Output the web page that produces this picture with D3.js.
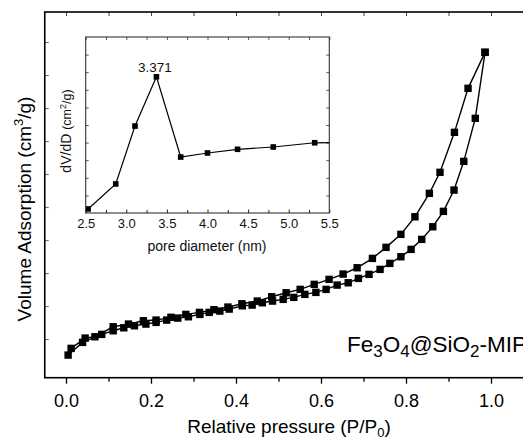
<!DOCTYPE html>
<html>
<head>
<meta charset="utf-8">
<script src="https://cdn.jsdelivr.net/npm/d3@7/dist/d3.min.js"></script>
<style>
  html, body { margin: 0; padding: 0; background: #fff; }
  svg { display: block; font-family: Arial, "Liberation Sans", sans-serif; }
</style>
</head>
<body>
<svg id="chart" width="523" height="440"></svg>
<script>
// ---- Main isotherm data (P/P0 vs. adsorbed volume, arbitrary units) ----
const adsP = [0.005, 0.039, 0.084, 0.111, 0.136, 0.161, 0.188, 0.212, 0.237, 0.263, 0.288, 0.315, 0.337, 0.362, 0.384, 0.415, 0.438, 0.462, 0.486, 0.511, 0.536, 0.562, 0.588, 0.612, 0.638, 0.664, 0.688, 0.713, 0.739, 0.762, 0.788, 0.812, 0.837, 0.863, 0.888, 0.913, 0.936, 0.963, 0.986];
const adsV = [5.15, 9.0, 11.42, 12.52, 13.42, 14.03, 14.55, 15.06, 15.76, 16.36, 16.76, 17.48, 18.09, 18.48, 19.09, 20.09, 20.3, 21.0, 21.52, 22.03, 22.64, 23.55, 24.15, 25.06, 26.36, 27.06, 28.39, 29.61, 31.12, 32.94, 34.94, 37.18, 40.21, 44.03, 48.7, 55.15, 63.85, 76.88, 96.88];
const desP = [0.986, 0.946, 0.914, 0.880, 0.855, 0.821, 0.788, 0.753, 0.721, 0.685, 0.652, 0.619, 0.584, 0.551, 0.518, 0.484, 0.450, 0.414, 0.381, 0.348, 0.314, 0.282, 0.247, 0.212, 0.182, 0.147, 0.111, 0.068, 0.045, 0.012];
const desV = [96.88, 85.97, 72.64, 60.52, 54.15, 47.06, 41.73, 37.79, 34.45, 31.61, 29.7, 28.09, 26.58, 25.06, 24.03, 22.82, 21.52, 20.7, 19.7, 18.9, 18.09, 17.48, 16.6, 15.76, 15.55, 14.55, 13.73, 10.7, 10.3, 7.18];
const mainXTicks = [0.0, 0.2, 0.4, 0.6, 0.8, 1.0];
const mainXMinor = [0.1, 0.3, 0.5, 0.7, 0.9];
const mainYTicks = [10, 20, 30, 40, 50, 60, 70, 80, 90, 100];

// ---- Inset: pore size distribution ----
const poreD = [2.53, 2.87, 3.107, 3.371, 3.67, 4.0, 4.37, 4.81, 5.32, 5.9];
const poreV = [0.23, 1.65, 4.94, 7.74, 3.18, 3.41, 3.62, 3.75, 3.99, 4.02];
const insetXTicks = [2.5, 3.0, 3.5, 4.0, 4.5, 5.0, 5.5];
const insetXMinor = [2.75, 3.25, 3.75, 4.25, 4.75, 5.25];
const insetYTicks = [1, 2, 3, 4, 5, 6, 7, 8, 9];
const peakLabel = "3.371";

const svg = d3.select("#chart");
svg.append("rect").attr("width", 523).attr("height", 440).attr("fill", "#fff");

// ---------- Main chart ----------
const x = d3.scaleLinear().domain([-0.05, 1.1]).range([44.75, 533.5]);
const y = d3.scaleLinear().domain([-1.7, 109.1]).range([377.7, 12]);
const [xl, xr] = x.range();
const [yb, yt] = y.range();

const styleAxis = (g, col, w) => {
  g.select(".domain").remove();
  g.selectAll(".tick line").attr("stroke", col).attr("stroke-width", w);
};

// bottom major ticks + labels
svg.append("g").attr("transform", `translate(0,${yb})`)
  .call(d3.axisBottom(x).tickValues(mainXTicks).tickFormat(d3.format(".1f")).tickSize(6).tickPadding(10.5))
  .call(g => styleAxis(g, "#000", 1.3))
  .call(g => g.selectAll("text").attr("font-size", 18).attr("fill", "#000").attr("font-family", "Arial, 'Liberation Sans', sans-serif"));
// bottom minor
svg.append("g").attr("transform", `translate(0,${yb})`)
  .call(d3.axisBottom(x).tickValues(mainXMinor).tickFormat("").tickSize(4))
  .call(g => styleAxis(g, "#000", 1.3));
// top mirror ticks (inward)
svg.append("g").attr("transform", `translate(0,${yt})`)
  .call(d3.axisBottom(x).tickValues(mainXTicks.concat(mainXMinor)).tickFormat("").tickSize(4))
  .call(g => styleAxis(g, "#444", 1));
// left ticks (inward)
svg.append("g").attr("transform", `translate(${xl},0)`)
  .call(d3.axisRight(y).tickValues(mainYTicks).tickFormat("").tickSize(4))
  .call(g => styleAxis(g, "#666", 1));

// frame
svg.append("rect").attr("x", xl).attr("y", yt).attr("width", xr - xl).attr("height", yb - yt)
  .attr("fill", "none").attr("stroke", "#000").attr("stroke-width", 1.6);

// series
const adsData = adsP.map((p, i) => [p, adsV[i]]);
const desData = desP.map((p, i) => [p, desV[i]]);
const line = d3.line().x(d => x(d[0])).y(d => y(d[1]));
[adsData, desData].forEach(data => {
  svg.append("path").datum(data).attr("d", line)
    .attr("fill", "none").attr("stroke", "#000").attr("stroke-width", 1.4);
});
[adsData, desData].forEach(data => {
  svg.append("g").selectAll("rect").data(data).join("rect")
    .attr("x", d => x(d[0]) - 3.7).attr("y", d => y(d[1]) - 3.7)
    .attr("width", 7.4).attr("height", 7.4).attr("fill", "#000");
});

// sample label
const lab = svg.append("text").attr("x", 347).attr("y", 352).attr("font-size", 22.5).attr("fill", "#000");
lab.append("tspan").text("Fe");
lab.append("tspan").attr("font-size", 17).attr("dy", 5).text("3");
lab.append("tspan").attr("dy", -5).text("O");
lab.append("tspan").attr("font-size", 17).attr("dy", 5).text("4");
lab.append("tspan").attr("dy", -5).text("@SiO");
lab.append("tspan").attr("font-size", 17).attr("dy", 5).text("2");
lab.append("tspan").attr("dy", -5).text("-MIP");

// axis titles
const xt = svg.append("text").attr("x", 289).attr("y", 433).attr("text-anchor", "middle").attr("font-size", 19).attr("fill", "#000");
xt.append("tspan").text("Relative pressure (P/P");
xt.append("tspan").attr("font-size", 13).attr("dy", 4).text("0");
xt.append("tspan").attr("dy", -4).text(")");

const yt2 = svg.append("text").attr("transform", "translate(31,209) rotate(-90)").attr("text-anchor", "middle").attr("font-size", 19).attr("fill", "#000");
yt2.append("tspan").text("Volume Adsorption (cm");
yt2.append("tspan").attr("font-size", 13).attr("dy", -8).text("3");
yt2.append("tspan").attr("dy", 8).text("/g)");

// ---------- Inset ----------
const ix = d3.scaleLinear().domain([2.5, 5.5]).range([85.7, 329.3]);
const iy = d3.scaleLinear().domain([0, 10]).range([213, 37]);
const [ixl, ixr] = ix.range();
const [iyb, iyt] = iy.range();

svg.append("rect").attr("x", ixl).attr("y", iyt).attr("width", ixr - ixl).attr("height", iyb - iyt).attr("fill", "#fff");

svg.append("g").attr("transform", `translate(0,${iyb})`)
  .call(d3.axisBottom(ix).tickValues(insetXTicks).tickFormat(d3.format(".1f")).tickSize(-3.5).tickPadding(6))
  .call(g => styleAxis(g, "#222", 1))
  .call(g => g.selectAll("text").attr("font-size", 13).attr("fill", "#111").attr("font-family", "Arial, 'Liberation Sans', sans-serif"));
svg.append("g").attr("transform", `translate(0,${iyb})`)
  .call(d3.axisBottom(ix).tickValues(insetXMinor).tickFormat("").tickSize(-3))
  .call(g => styleAxis(g, "#222", 1));
svg.append("g").attr("transform", `translate(0,${iyt})`)
  .call(d3.axisBottom(ix).tickValues(insetXTicks.concat(insetXMinor)).tickFormat("").tickSize(3))
  .call(g => styleAxis(g, "#555", 1));
svg.append("g").attr("transform", `translate(${ixl},0)`)
  .call(d3.axisRight(iy).tickValues(insetYTicks).tickFormat("").tickSize(3))
  .call(g => styleAxis(g, "#555", 1));
svg.append("g").attr("transform", `translate(${ixr},0)`)
  .call(d3.axisLeft(iy).tickValues(insetYTicks).tickFormat("").tickSize(3))
  .call(g => styleAxis(g, "#555", 1));

svg.append("defs").append("clipPath").attr("id", "insetClip")
  .append("rect").attr("x", ixl).attr("y", iyt).attr("width", ixr - ixl).attr("height", iyb - iyt);

const poreData = poreD.map((d, i) => [d, poreV[i]]);
const iline = d3.line().x(d => ix(d[0])).y(d => iy(d[1]));
const ig = svg.append("g").attr("clip-path", "url(#insetClip)");
ig.append("path").datum(poreData).attr("d", iline).attr("fill", "none").attr("stroke", "#000").attr("stroke-width", 1.2);
ig.selectAll("rect").data(poreData).join("rect")
  .attr("x", d => ix(d[0]) - 2.8).attr("y", d => iy(d[1]) - 2.8)
  .attr("width", 5.6).attr("height", 5.6).attr("fill", "#000");

svg.append("rect").attr("x", ixl).attr("y", iyt).attr("width", ixr - ixl).attr("height", iyb - iyt)
  .attr("fill", "none").attr("stroke", "#333").attr("stroke-width", 1.1);

// peak label
const peakIdx = 3;
svg.append("text").attr("x", ix(poreD[peakIdx]) - 1.5).attr("y", iy(poreV[peakIdx]) - 5)
  .attr("text-anchor", "middle").attr("font-size", 13.5).attr("fill", "#111").text(peakLabel);

// inset titles
svg.append("text").attr("x", 207).attr("y", 250.5).attr("text-anchor", "middle")
  .attr("font-size", 14).attr("fill", "#111").text("pore diameter (nm)");
const iyl = svg.append("text").attr("transform", "translate(71,131) rotate(-90)").attr("text-anchor", "middle").attr("fill", "#111").attr("font-size", 14);
iyl.append("tspan").text("dV/dD ");
iyl.append("tspan").attr("font-size", 12.5).text("(cm");
iyl.append("tspan").attr("font-size", 9).attr("dy", -5).text("2");
iyl.append("tspan").attr("font-size", 12.5).attr("dy", 5).text("/g)");
</script>
</body>
</html>
